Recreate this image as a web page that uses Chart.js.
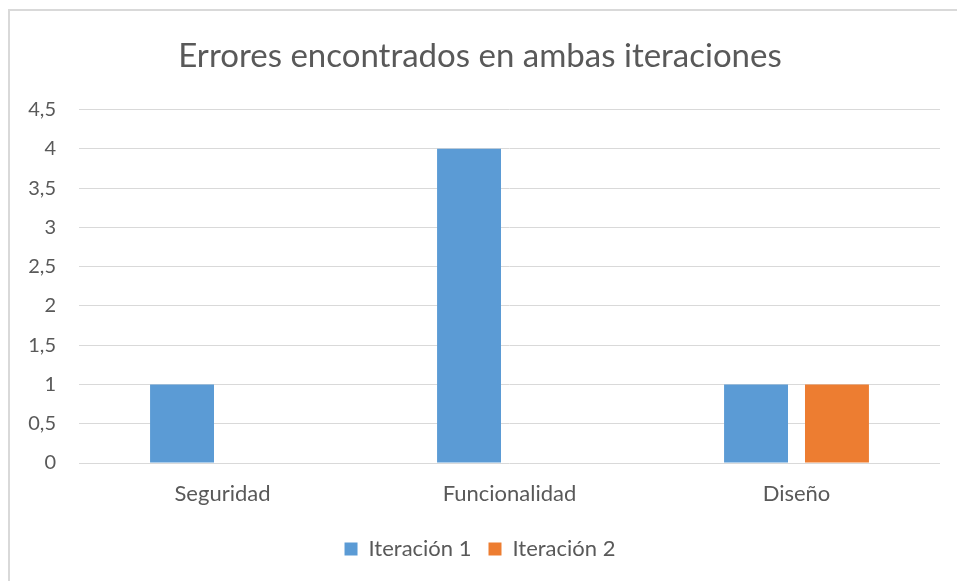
<!DOCTYPE html>
<html>
<head>
<meta charset="utf-8">
<script src="https://cdn.jsdelivr.net/npm/chart.js@4/dist/chart.umd.min.js"></script>
<style>
  html, body { margin: 0; padding: 0; background: #fff; overflow: hidden; }
  #frame { position: absolute; left: 8px; top: 9px; width: 2000px; height: 2000px;
           border-left: 2px solid #d9d9d9; border-top: 2px solid #d9d9d9; }
  #wrap { position: absolute; left: 0; top: 0; width: 957px; height: 581px; }
</style>
</head>
<body>
<div id="frame"></div>
<div id="wrap"><canvas id="c" width="957" height="581"></canvas></div>
<script>
const categories = ["Seguridad", "Funcionalidad", "Diseño"];
const iteracion1 = [1, 4, 1];
const iteracion2 = [0, 0, 1];
const seriesNames = ["Iteración 1", "Iteración 2"];
const titleText = "Errores encontrados en ambas iteraciones";

const FONT = "Lato, 'Open Sans', sans-serif";
const TXT = "#595959";

new Chart(document.getElementById("c"), {
  type: "bar",
  data: {
    labels: categories,
    datasets: [
      { label: seriesNames[0], data: iteracion1, backgroundColor: "#5B9BD5", borderWidth: 0,
        categoryPercentage: 0.564, barPercentage: 0.79 },
      { label: seriesNames[1], data: iteracion2, backgroundColor: "#ED7D31", borderWidth: 0,
        categoryPercentage: 0.564, barPercentage: 0.79 }
    ]
  },
  options: {
    responsive: false,
    animation: false,
    layout: { padding: { left: 20, right: 17, top: 21, bottom: 11 } },
    plugins: {
      title: { display: true, text: titleText, color: TXT,
               font: { family: FONT, size: 33, weight: "normal" },
               padding: { top: 16, bottom: 33 } },
      legend: { position: "bottom",
                labels: { color: TXT, font: { family: FONT, size: 22 },
                          boxWidth: 13, boxHeight: 13, padding: 17 } },
      tooltip: { enabled: false }
    },
    scales: {
      x: {
        afterFit: (s) => { s.height = 58; },
        grid: { display: false, drawTicks: false },
        border: { display: false },
        ticks: { color: TXT, font: { family: FONT, size: 22 }, padding: 18 }
      },
      y: {
        min: 0, max: 4.5,
        afterFit: (s) => { s.width = 59; },
        grid: { color: "#d9d9d9", lineWidth: 1, drawTicks: false },
        border: { display: false },
        ticks: { stepSize: 0.5, color: TXT, font: { family: FONT, size: 20 }, padding: 23,
                 callback: (v) => String(v).replace(".", ",") }
      }
    }
  }
});
</script>
</body>
</html>
